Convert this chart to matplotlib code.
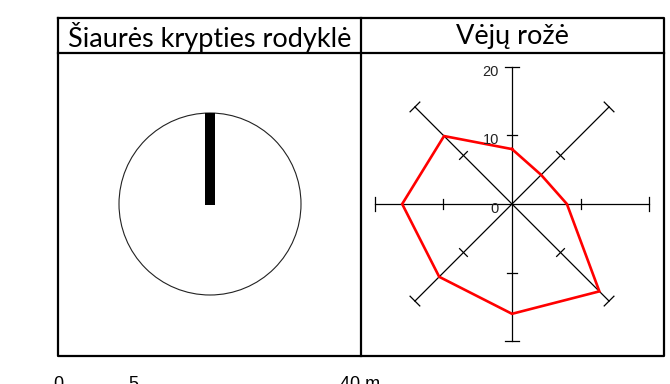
import numpy as np
import matplotlib.pyplot as plt
from matplotlib.patches import Circle, Rectangle

headers = ["Šiaurės krypties rodyklė", "Vėjų rožė"]
directions = ["Š", "ŠR", "R", "PR", "P", "PV", "V", "ŠV"]
wind_values = [8, 6, 8, 18, 16, 15, 16, 14]
ring_ticks = [10, 20]
rose_labels = [0, 10, 20]
scale_labels = ["0", "5", "40 m"]
scale_pos = [58, 133, 360]

W, H = 670, 384
fig = plt.figure(figsize=(W / 100, H / 100), dpi=100)

# table frame, in pixel units
bg = fig.add_axes([0, 0, 1, 1])
bg.set_xlim(0, W)
bg.set_ylim(H, 0)
bg.axis("off")

left, mid, right = 58, 361, 664
top, head, bottom = 18, 53, 356
lw = 1.6
bg.plot([left, right, right, left, left], [top, top, bottom, bottom, top], color="black", lw=lw)
bg.plot([mid, mid], [top, bottom], color="black", lw=lw)
bg.plot([left, right], [head, head], color="black", lw=lw)
for text, x0, x1 in zip(headers, [left, mid], [mid, right]):
    bg.text((x0 + x1) / 2, (top + head) / 2 + 1, text, ha="center", va="center",
            fontsize=19.5, family="Lato")

# scale bar labels (cut by the bottom edge, as in the source)
for lab, x in zip(scale_labels, scale_pos):
    bg.text(x, 376, lab, ha="center", va="top", fontsize=13, family="Liberation Sans")


def px_axes(cx, cy, half):
    return fig.add_axes([(cx - half) / W, 1 - (cy + half) / H, 2 * half / W, 2 * half / H])


# north arrow
ax1 = px_axes(210, 204, 110)
lim1 = 110 / 91
ax1.set_xlim(-lim1, lim1)
ax1.set_ylim(-lim1, lim1)
ax1.axis("off")
ax1.add_patch(Circle((0, 0), 1, fill=False, edgecolor="#222222", lw=0.8))
ax1.add_patch(Rectangle((-0.055, -0.01), 0.11, 1.01, color="black", lw=0))

# wind rose
ax2 = px_axes(512, 204, 151)
ax2.set_xlim(-22, 22)
ax2.set_ylim(-22, 22)
ax2.axis("off")

theta = np.deg2rad(np.arange(len(directions)) * 45)
rmax = max(ring_ticks)
for t in theta[:4]:
    ax2.plot([-rmax * np.sin(t), rmax * np.sin(t)], [-rmax * np.cos(t), rmax * np.cos(t)],
             color="black", lw=0.9)
for t in theta:
    for r in ring_ticks:
        h = 0.8 if r < rmax else 1.0
        px, py = r * np.sin(t), r * np.cos(t)
        ax2.plot([px - h * np.cos(t), px + h * np.cos(t)], [py + h * np.sin(t), py - h * np.sin(t)],
                 color="black", lw=0.9)

vals = np.array(wind_values + wind_values[:1], dtype=float)
th = np.append(theta, theta[0])
ax2.plot(vals * np.sin(th), vals * np.cos(th), color="#ff0000", lw=1.9, solid_joinstyle="miter")

for v in rose_labels:
    ax2.text(-1.9, v - 0.7, str(v), ha="right", va="center", fontsize=10.5,
             family="Liberation Sans", color="#222222")

fig.savefig("out.png", dpi=100)
